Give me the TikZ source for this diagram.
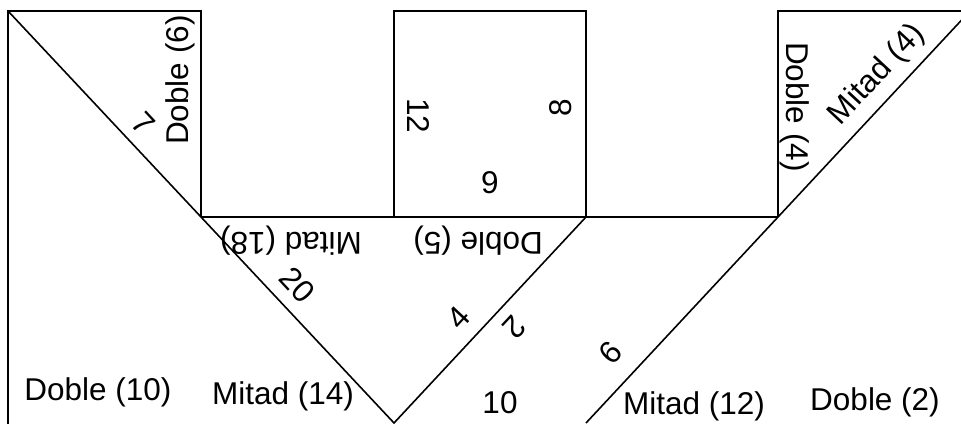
\documentclass[tikz,border=0pt]{standalone}
\usepackage{fontspec}
\setmainfont{Liberation Sans}
\begin{document}
\begin{tikzpicture}[x=1pt,y=-1pt,line width=1.6pt,line join=miter,
  lbl/.style={font=\fontsize{31.5}{36}\selectfont,inner sep=0pt},
  hl/.style={lbl,anchor=base}]
\useasboundingbox (0,0) rectangle (961,423);
\clip (0,0) rectangle (961,423);
% corner coordinates
\coordinate (A) at (8,11);
\coordinate (Abot) at (8,430);
\coordinate (B) at (201,11);
\coordinate (C) at (201,217);
\coordinate (V) at (394,423);
\coordinate (S1) at (394,11);
\coordinate (S2) at (586,11);
\coordinate (S3) at (586,217);
\coordinate (S4) at (394,217);
\coordinate (R1) at (778,217);
\coordinate (R2) at (778,11);
\coordinate (R3) at (980,11);
\coordinate (Rtop) at (970,11);
\coordinate (W) at (586,423);
% lines
\draw (Abot) -- (A) -- (B) -- (C);
\draw (A) -- (V) -- (S3);
\draw (C) -- (R1);
\draw (S4) -- (S1) -- (S2) -- (S3);
\draw (R1) -- (R2) -- (R3);
\draw (W) -- (Rtop);
% rotated labels
\node[lbl,rotate=90] (d6) at (180,80) {Doble (6)};
\node[lbl,rotate=-47] (n7) at (143,124) {7};
\node[lbl,rotate=-90] (n12) at (418,116) {12};
\node[lbl,rotate=90] (n8) at (561,108) {8};
\node[lbl] (n9) at (490,183) {9};
\node[lbl,rotate=180] (m18) at (291,241) {Mitad (18)};
\node[lbl,rotate=180] (d5) at (478,241) {Doble (5)};
\node[lbl,rotate=-47] (n20) at (297,285) {20};
\node[lbl,rotate=47] (n4) at (459,318) {4};
\node[lbl,rotate=-133] (n2) at (515,327) {2};
\node[lbl,rotate=47] (n6) at (611,353) {6};
\node[lbl,rotate=-90] (d4) at (795,107) {Doble (4)};
\node[lbl,rotate=47] (m4) at (877,75) {Mitad (4)};
% upright labels
\node[hl] (d10) at (98,400) {Doble (10)};
\node[hl] (m14) at (283,404) {Mitad (14)};
\node[hl] (n10) at (500,413) {10};
\node[hl] (m12) at (694,414) {Mitad (12)};
\node[hl] (d2) at (875,410) {Doble (2)};
\end{tikzpicture}
\end{document}
